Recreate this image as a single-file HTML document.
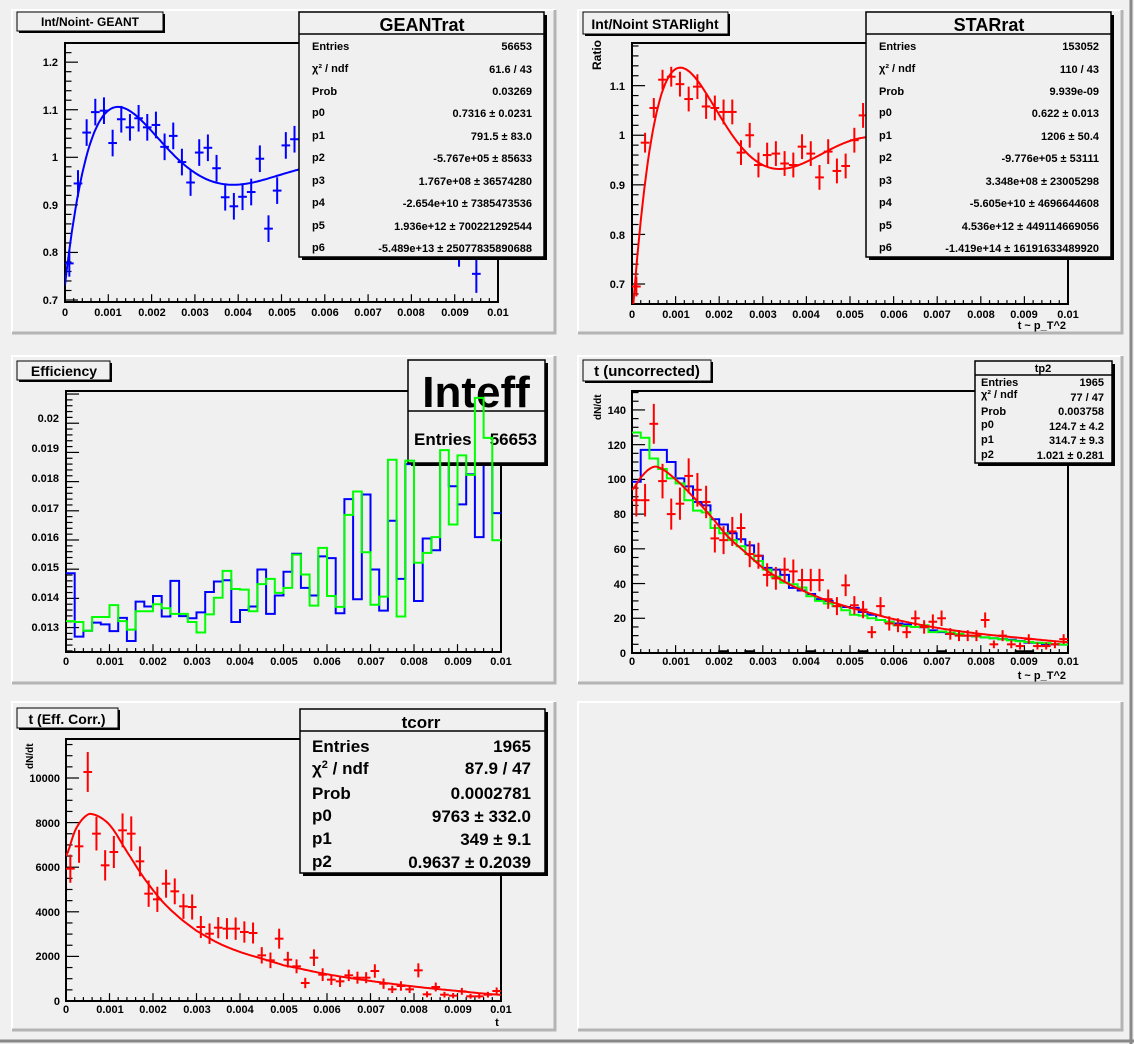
<!DOCTYPE html>
<html><head><meta charset="utf-8"><style>
html,body{margin:0;padding:0;background:#f0f0f0;}
svg{display:block;font-family:"Liberation Sans",sans-serif;font-weight:bold;}
.t11{font-size:11px;}
</style></head><body>
<svg id="s" width="1134" height="1044" xmlns="http://www.w3.org/2000/svg">
<defs>
<clipPath id="c1"><rect x="65" y="43" width="433" height="259"/></clipPath>
<clipPath id="c2"><rect x="632" y="43" width="436" height="261"/></clipPath>
<clipPath id="c3"><rect x="66" y="391" width="435" height="261"/></clipPath>
<clipPath id="c4"><rect x="632" y="391" width="436" height="262"/></clipPath>
<clipPath id="c5"><rect x="66" y="739" width="435" height="262"/></clipPath>
</defs>
<rect x="0" y="0" width="1134" height="1044" fill="#f0f0f0"/>
<line x1="1131" y1="0" x2="1131" y2="1044" stroke="#888" stroke-width="3"/>
<line x1="0" y1="1041" x2="1134" y2="1041" stroke="#888" stroke-width="3"/>
<g id="pads"></g>
<g id="data"></g>

<!-- tick labels -->
<g class="t11" text-anchor="middle" fill="#000">
<text x="65" y="316">0</text><text x="108" y="316">0.001</text><text x="152" y="316">0.002</text><text x="195" y="316">0.003</text><text x="238" y="316">0.004</text><text x="282" y="316">0.005</text><text x="325" y="316">0.006</text><text x="368" y="316">0.007</text><text x="411" y="316">0.008</text><text x="455" y="316">0.009</text><text x="498" y="316">0.01</text>
<text x="632" y="318">0</text><text x="676" y="318">0.001</text><text x="719" y="318">0.002</text><text x="763" y="318">0.003</text><text x="806" y="318">0.004</text><text x="850" y="318">0.005</text><text x="894" y="318">0.006</text><text x="937" y="318">0.007</text><text x="981" y="318">0.008</text><text x="1024" y="318">0.009</text><text x="1068" y="318">0.01</text>
<text x="66" y="665">0</text><text x="110" y="665">0.001</text><text x="153" y="665">0.002</text><text x="197" y="665">0.003</text><text x="240" y="665">0.004</text><text x="284" y="665">0.005</text><text x="327" y="665">0.006</text><text x="371" y="665">0.007</text><text x="414" y="665">0.008</text><text x="458" y="665">0.009</text><text x="501" y="665">0.01</text>
<text x="632" y="665">0</text><text x="676" y="665">0.001</text><text x="719" y="665">0.002</text><text x="763" y="665">0.003</text><text x="806" y="665">0.004</text><text x="850" y="665">0.005</text><text x="894" y="665">0.006</text><text x="937" y="665">0.007</text><text x="981" y="665">0.008</text><text x="1024" y="665">0.009</text><text x="1068" y="665">0.01</text>
<text x="66" y="1013">0</text><text x="110" y="1013">0.001</text><text x="153" y="1013">0.002</text><text x="197" y="1013">0.003</text><text x="240" y="1013">0.004</text><text x="284" y="1013">0.005</text><text x="327" y="1013">0.006</text><text x="371" y="1013">0.007</text><text x="414" y="1013">0.008</text><text x="458" y="1013">0.009</text><text x="501" y="1013">0.01</text>
</g>
<g class="t11" text-anchor="end" fill="#000">
<text x="58" y="66">1.2</text><text x="58" y="114">1.1</text><text x="58" y="161">1</text><text x="58" y="209">0.9</text><text x="58" y="256">0.8</text><text x="58" y="304">0.7</text>
<text x="625" y="90">1.1</text><text x="625" y="139">1</text><text x="625" y="189">0.9</text><text x="625" y="239">0.8</text><text x="625" y="288">0.7</text>
<text x="59" y="422">0.02</text><text x="59" y="452">0.019</text><text x="59" y="482">0.018</text><text x="59" y="512">0.017</text><text x="59" y="541">0.016</text><text x="59" y="571">0.015</text><text x="59" y="601">0.014</text><text x="59" y="631">0.013</text>
<text x="626" y="657">0</text><text x="626" y="622">20</text><text x="626" y="588">40</text><text x="626" y="553">60</text><text x="626" y="518">80</text><text x="626" y="483">100</text><text x="626" y="449">120</text><text x="626" y="414">140</text>
<text x="60" y="1005">0</text><text x="60" y="960">2000</text><text x="60" y="916">4000</text><text x="60" y="871">6000</text><text x="60" y="827">8000</text><text x="60" y="782">10000</text>
</g>
<!-- axis titles -->
<g class="t11" fill="#000">
<text x="1066" y="329" text-anchor="end">t ~ p_T^2</text>
<text x="1066" y="679" text-anchor="end">t ~ p_T^2</text>
<text x="497" y="1026" text-anchor="middle">t</text>
<text transform="translate(601,70) rotate(-90)" font-size="12">Ratio</text>
<text transform="translate(601,420) rotate(-90)" font-size="10">dN/dt</text>
<text transform="translate(33,769) rotate(-90)" font-size="10">dN/dt</text>
</g>

<!-- titles -->
<g fill="#000">
<rect x="19" y="14" width="146" height="19" fill="#000"/><rect x="17" y="12" width="146" height="19" fill="#f0f0f0" stroke="#000"/>
<text x="90" y="26" text-anchor="middle" font-size="12">Int/Noint- GEANT</text>
<rect x="585" y="14" width="145" height="22" fill="#000"/><rect x="583" y="12" width="145" height="22" fill="#f0f0f0" stroke="#000"/>
<text x="655" y="29" text-anchor="middle" font-size="14">Int/Noint STARlight</text>
<rect x="19" y="363" width="93" height="19" fill="#000"/><rect x="17" y="361" width="93" height="19" fill="#f0f0f0" stroke="#000"/>
<text x="64" y="376" text-anchor="middle" font-size="14">Efficiency</text>
<rect x="585" y="362" width="128" height="21" fill="#000"/><rect x="583" y="360" width="128" height="21" fill="#f0f0f0" stroke="#000"/>
<text x="647" y="376" text-anchor="middle" font-size="15">t (uncorrected)</text>
<rect x="19" y="710" width="101" height="20" fill="#000"/><rect x="17" y="708" width="101" height="20" fill="#f0f0f0" stroke="#000"/>
<text x="67" y="724" text-anchor="middle" font-size="14">t (Eff. Corr.)</text>
</g>

<!-- stat box GEANTrat -->
<g fill="#000" font-size="11">
<rect x="302" y="15" width="245" height="245" fill="#000"/><rect x="299" y="12" width="245" height="245" fill="#f0f0f0" stroke="#000" stroke-width="1.5"/>
<line x1="299" y1="34" x2="544" y2="34" stroke="#000" stroke-width="1.5"/>
<text x="422" y="31" text-anchor="middle" font-size="18">GEANTrat</text>
<text x="312" y="50">Entries</text><text x="532" y="50" text-anchor="end">56653</text>
<text x="312" y="72">χ² / ndf</text><text x="532" y="73" text-anchor="end">61.6 / 43</text>
<text x="312" y="95">Prob</text><text x="532" y="95" text-anchor="end">0.03269</text>
<text x="312" y="116">p0</text><text x="532" y="117" text-anchor="end">0.7316 ± 0.0231</text>
<text x="312" y="139">p1</text><text x="532" y="140" text-anchor="end">791.5 ± 83.0</text>
<text x="312" y="161">p2</text><text x="532" y="162" text-anchor="end">-5.767e+05 ± 85633</text>
<text x="312" y="184">p3</text><text x="532" y="185" text-anchor="end">1.767e+08 ± 36574280</text>
<text x="312" y="206">p4</text><text x="532" y="207" text-anchor="end">-2.654e+10 ± 7385473536</text>
<text x="312" y="229">p5</text><text x="532" y="230" text-anchor="end">1.936e+12 ± 700221292544</text>
<text x="312" y="251">p6</text><text x="532" y="252" text-anchor="end">-5.489e+13 ± 25077835890688</text>
</g>
<!-- stat box STARrat -->
<g fill="#000" font-size="11">
<rect x="869" y="15" width="245" height="245" fill="#000"/><rect x="866" y="12" width="245" height="245" fill="#f0f0f0" stroke="#000" stroke-width="1.5"/>
<line x1="866" y1="34" x2="1111" y2="34" stroke="#000" stroke-width="1.5"/>
<text x="989" y="31" text-anchor="middle" font-size="18">STARrat</text>
<text x="879" y="50">Entries</text><text x="1099" y="50" text-anchor="end">153052</text>
<text x="879" y="72">χ² / ndf</text><text x="1099" y="73" text-anchor="end">110 / 43</text>
<text x="879" y="95">Prob</text><text x="1099" y="95" text-anchor="end">9.939e-09</text>
<text x="879" y="116">p0</text><text x="1099" y="117" text-anchor="end">0.622 ± 0.013</text>
<text x="879" y="139">p1</text><text x="1099" y="140" text-anchor="end">1206 ± 50.4</text>
<text x="879" y="161">p2</text><text x="1099" y="162" text-anchor="end">-9.776e+05 ± 53111</text>
<text x="879" y="184">p3</text><text x="1099" y="185" text-anchor="end">3.348e+08 ± 23005298</text>
<text x="879" y="206">p4</text><text x="1099" y="207" text-anchor="end">-5.605e+10 ± 4696644608</text>
<text x="879" y="229">p5</text><text x="1099" y="230" text-anchor="end">4.536e+12 ± 449114669056</text>
<text x="879" y="251">p6</text><text x="1099" y="252" text-anchor="end">-1.419e+14 ± 16191633489920</text>
</g>
<!-- Inteff -->
<g fill="#000">
<rect x="411" y="363" width="137" height="103" fill="#000"/><rect x="408" y="360" width="137" height="103" fill="#f0f0f0" stroke="#000" stroke-width="1.5"/>
<line x1="408" y1="411" x2="545" y2="411" stroke="#000" stroke-width="1.5"/>
<text x="476" y="407" text-anchor="middle" font-size="44">Inteff</text>
<text x="414" y="445" font-size="17">Entries</text><text x="537" y="445" text-anchor="end" font-size="17">56653</text>
</g>
<g id="top"></g>
<!-- tp2 -->
<g fill="#000" font-size="11">
<rect x="978" y="364" width="137" height="102" fill="#000"/><rect x="975" y="361" width="137" height="102" fill="#f0f0f0" stroke="#000" stroke-width="1.5"/>
<line x1="975" y1="375" x2="1112" y2="375" stroke="#000" stroke-width="1.5"/>
<text x="1043" y="372" text-anchor="middle">tp2</text>
<text x="981" y="386">Entries</text><text x="1104" y="386" text-anchor="end">1965</text>
<text x="981" y="398">χ² / ndf</text><text x="1104" y="401" text-anchor="end">77 / 47</text>
<text x="981" y="415">Prob</text><text x="1104" y="415" text-anchor="end">0.003758</text>
<text x="981" y="428">p0</text><text x="1104" y="430" text-anchor="end">124.7 ± 4.2</text>
<text x="981" y="443">p1</text><text x="1104" y="444" text-anchor="end">314.7 ± 9.3</text>
<text x="981" y="458">p2</text><text x="1104" y="459" text-anchor="end">1.021 ± 0.281</text>
</g>
<!-- tcorr -->
<g fill="#000" font-size="17">
<rect x="303" y="712" width="245" height="164" fill="#000"/><rect x="300" y="709" width="245" height="164" fill="#f0f0f0" stroke="#000" stroke-width="1.5"/>
<line x1="300" y1="731" x2="545" y2="731" stroke="#000" stroke-width="1.5"/>
<text x="421" y="728" text-anchor="middle">tcorr</text>
<text x="312" y="752">Entries</text><text x="531" y="752" text-anchor="end">1965</text>
<text x="312" y="774">χ<tspan font-size="11" dy="-6">2</tspan><tspan dy="6"> / ndf</tspan></text><text x="531" y="774" text-anchor="end">87.9 / 47</text>
<text x="312" y="799">Prob</text><text x="531" y="799" text-anchor="end">0.0002781</text>
<text x="312" y="821">p0</text><text x="531" y="822" text-anchor="end">9763 ± 332.0</text>
<text x="312" y="844">p1</text><text x="531" y="845" text-anchor="end">349 ± 9.1</text>
<text x="312" y="867">p2</text><text x="531" y="868" text-anchor="end">0.9637 ± 0.2039</text>
</g>
</svg>
<script>
(function(){
var NS="http://www.w3.org/2000/svg";
function el(t,a,p){var e=document.createElementNS(NS,t);for(var k in a)e.setAttribute(k,a[k]);(p||D).appendChild(e);return e;}
var D=document.getElementById('data'), PD=document.getElementById('pads'), TOP=document.getElementById('top');
[[12,10,543,323],[578,10,544,323],[12,356,543,327],[578,356,544,327],[12,702,543,328],[578,702,544,328]].forEach(function(r){
 var x=r[0],y=r[1],w=r[2],h=r[3];
 el('rect',{x:x,y:y,width:w,height:h,fill:'#f0f0f0'},PD);
 el('path',{d:'M'+x+' '+(y+h)+'V'+y+'H'+(x+w),fill:'none',stroke:'#fff','stroke-width':2},PD);
 el('path',{d:'M'+x+' '+(y+h)+'H'+(x+w)+'V'+y,fill:'none',stroke:'#b4b4b4','stroke-width':3},PD);
});
function mk(x0,x1,y0,y1,ymin,ymax,clip){var P={x0:x0,x1:x1,y0:y0,y1:y1,ymin:ymin,ymax:ymax,clip:clip};
 P.X=function(v){return x0+v/0.01*(x1-x0);};P.Y=function(v){return y1-(v-ymin)/(ymax-ymin)*(y1-y0);};return P;}
var P1=mk(65,498,43,302,0.6958,1.2403,'c1'),P2=mk(632,1068,43,304,0.6597,1.186,'c2'),
P3=mk(66,501,391,652,0.012163,0.021104,'c3'),P4=mk(632,1068,391,653,0,150.9,'c4'),P5=mk(66,501,739,1001,0,11749,'c5');
function axes(P,step,div){
 var g=el('g',{stroke:'#000','stroke-width':1.2});
 var L=(P.x1-P.x0)*0.03, H=(P.y1-P.y0)*0.03, s=step/div;
 var k0=Math.ceil(P.ymin/s-1e-6),k1=Math.floor(P.ymax/s+1e-6);
 for(var k=k0;k<=k1;k++){var y=P.Y(k*s),maj=(k%div===0);el('line',{x1:P.x0,y1:y,x2:P.x0+(maj?L:L/2),y2:y},g);}
 for(var k=0;k<=50;k++){var x=P.X(k*0.0002),maj=(k%5===0);el('line',{x1:x,y1:P.y1,x2:x,y2:P.y1-(maj?H:H/2)},g);}
 el('rect',{x:P.x0,y:P.y0,width:P.x1-P.x0,height:P.y1-P.y0,fill:'none',stroke:'#000','stroke-width':2});
}
function pts(P,vals,errs,col){var g=el('g',{stroke:col,'stroke-width':2,'clip-path':'url(#'+P.clip+')'});
 vals.forEach(function(v,i){if(v==null)return;var c=0.0001+0.0002*i,e=errs(v,i);
  el('line',{x1:P.X(c-0.0001),y1:P.Y(v),x2:P.X(c+0.0001),y2:P.Y(v)},g);
  el('line',{x1:P.X(c),y1:P.Y(v-e),x2:P.X(c),y2:P.Y(v+e)},g);});}
function hist(P,vals,col,par){var d='M'+P.X(0)+' '+P.Y(vals[0]);
 vals.forEach(function(v,i){if(i>0)d+='V'+P.Y(v);d+='H'+P.X(0.0002*(i+1));});
 el('path',{d:d,fill:'none',stroke:col,'stroke-width':2,'clip-path':'url(#'+P.clip+')'},par);}
function curve(P,f,col,a,b){var d='';for(var x=a;x<=b+1e-9;x+=0.00004){d+=(d?'L':'M')+P.X(x).toFixed(1)+' '+P.Y(f(x)).toFixed(1);}
 el('path',{d:d,fill:'none',stroke:col,'stroke-width':2,'clip-path':'url(#'+P.clip+')'});}
function poly(p){return function(x){var s=0,t=1;for(var i=0;i<p.length;i++){s+=p[i]*t;t*=x;}return s;};}
function spline(xs,ys){return function(x){var n=xs.length;if(x<=xs[0])return ys[0];if(x>=xs[n-1])return ys[n-1];
 var i=0;while(xs[i+1]<x)i++;var t=(x-xs[i])/(xs[i+1]-xs[i]);
 var p0=ys[Math.max(i-1,0)],p1=ys[i],p2=ys[i+1],p3=ys[Math.min(i+2,n-1)];
 return 0.5*((2*p1)+(-p0+p2)*t+(2*p0-5*p1+4*p2-p3)*t*t+(-p0+3*p1-3*p2+p3)*t*t*t);};}

axes(P1,0.1,5);
var g1=[0.777,0.945,1.052,1.095,1.098,1.03,1.08,1.063,1.082,1.063,1.068,1.022,1.045,0.99,0.947,1.01,1.02,0.977,0.916,0.897,0.917,0.927,0.997,0.85,0.93,1.025,1.038];
while(g1.length<50)g1.push(null);g1[45]=0.81;g1[47]=0.755;
pts(P1,g1,function(v,i){return i>44?0.04:0.028;},'#0000ff');
curve(P1,poly([0.7316,791.5,-5.767e5,1.767e8,-2.654e10,1.936e12,-5.489e13]),'#0000ff',0,0.0056);
axes(P2,0.1,5);
var g2=[0.695,0.985,1.055,1.112,1.118,1.103,1.073,1.098,1.058,1.055,1.047,1.047,0.965,1.0,0.94,0.96,0.963,0.943,0.94,0.977,0.963,0.915,0.967,0.928,0.938,0.99,1.04];
pts(P2,g2,function(v,i){return i<5?0.02:0.025;},'#ff0000');
curve(P2,poly([0.622,1206,-9.776e5,3.348e8,-5.605e10,4.536e12,-1.419e14]),'#ff0000',0,0.0056);
axes(P3,0.001,5);
var b3=[0.01486,0.01269,0.01289,0.01317,0.01311,0.01288,0.01333,0.01254,0.01389,0.01372,0.01408,0.01338,0.0146,0.01339,0.01332,0.01352,0.01422,0.01458,0.01462,0.01319,0.0136,0.01372,0.01499,0.01347,0.0141,0.01491,0.01553,0.01436,0.0141,0.01544,0.01538,0.01349,0.0174,0.01397,0.01756,0.01499,0.01358,0.01666,0.01467,0.0186,0.01391,0.01605,0.01565,0.0186,0.01784,0.01722,0.01825,0.0161,0.0189,0.01692];
var gr3=[0.01322,0.01319,0.01289,0.01336,0.01336,0.01377,0.01322,0.01293,0.01356,0.01356,0.0138,0.01366,0.01347,0.01347,0.01319,0.01283,0.01345,0.01402,0.01494,0.01432,0.0143,0.01356,0.01449,0.01467,0.01419,0.01436,0.0155,0.01482,0.01375,0.01573,0.01408,0.01371,0.01686,0.01766,0.01558,0.01378,0.01406,0.01875,0.01338,0.01872,0.01522,0.01556,0.0161,0.01908,0.01653,0.0189,0.01823,0.02087,0.0195,0.01599];
hist(P3,b3,'#0000ff');hist(P3,gr3,'#00ff00',TOP);
axes(P4,20,4);
var blk=[];for(var i=0;i<50;i++)blk.push([10,13,20,26,35,44,45].indexOf(i)>=0?1:0);
hist(P4,blk,'#000');
var b4=[98.6,117,117,117,110,100.6,96,87,85,77,74,69,65.5,62,56,49,48,45,37.5,36,34,31,30,27,26.5,26,23.6,22,19,18,17,16.5,15,14.8,13,12,11,10.8,10,9.6,9,8.5,8,7.6,7,6,5.8,5,5,4.8];
var gr4=[127,124,112,106,100.6,97.7,88,82,81,72,69,65,61.5,57,53,48,44,40.5,39.6,37.7,32.7,30,28.5,27,24.6,22,21.5,20,19,18,16,15.5,15,16,12,12.4,11.7,11,10,9.6,9,8.5,7.9,7.3,6.8,6.3,5.9,5.7,5.2,4.8];
hist(P4,b4,'#0000ff');hist(P4,gr4,'#00ff00');
var r4=[88,88,132,99,80,86,102,94,87,66,65,70,72,57,56,45,43,48,47,42,42,42,31,27,39,27.5,25,12,27,17,16,12,20,15,18,20,11,10,10,10,19,5,10,5,4,8,4,4,5,8];
pts(P4,r4,function(v){return Math.sqrt(v);},'#ff0000');
var cx=[0,0.0002,0.0004,0.0006,0.001,0.0014,0.0018,0.0022,0.0026,0.003,0.0035,0.004,0.0045,0.005,0.006,0.007,0.008,0.009,0.01];
curve(P4,spline(cx,[94,101,106,107,100,90,79,67,58,49,41,35,30,26,19.5,14.5,11,8.5,6.3]),'#ff0000',0,0.01);
axes(P5,2000,4);
var r5=[5934,6936,10270,7504,6084,6682,7653,7504,6263,4813,4559,5262,4918,4245,4215,3318,3019,3288,3244,3244,3094,3049,2048,1824,2795,1853,1555,807,1943,1181,957,882,1151,1046,1046,1345,777,523,673,523,1375,299,628,284,239,433,209,209,284,448];
pts(P5,r5,function(v,i){return v/Math.sqrt(Math.max(r4[i],4));},'#ff0000');
curve(P5,spline(cx,[6500,7600,8200,8380,7900,6700,5500,4500,3750,3150,2600,2200,1900,1600,1200,900,650,450,280]),'#ff0000',0,0.01);
})();
</script>
</body></html>
